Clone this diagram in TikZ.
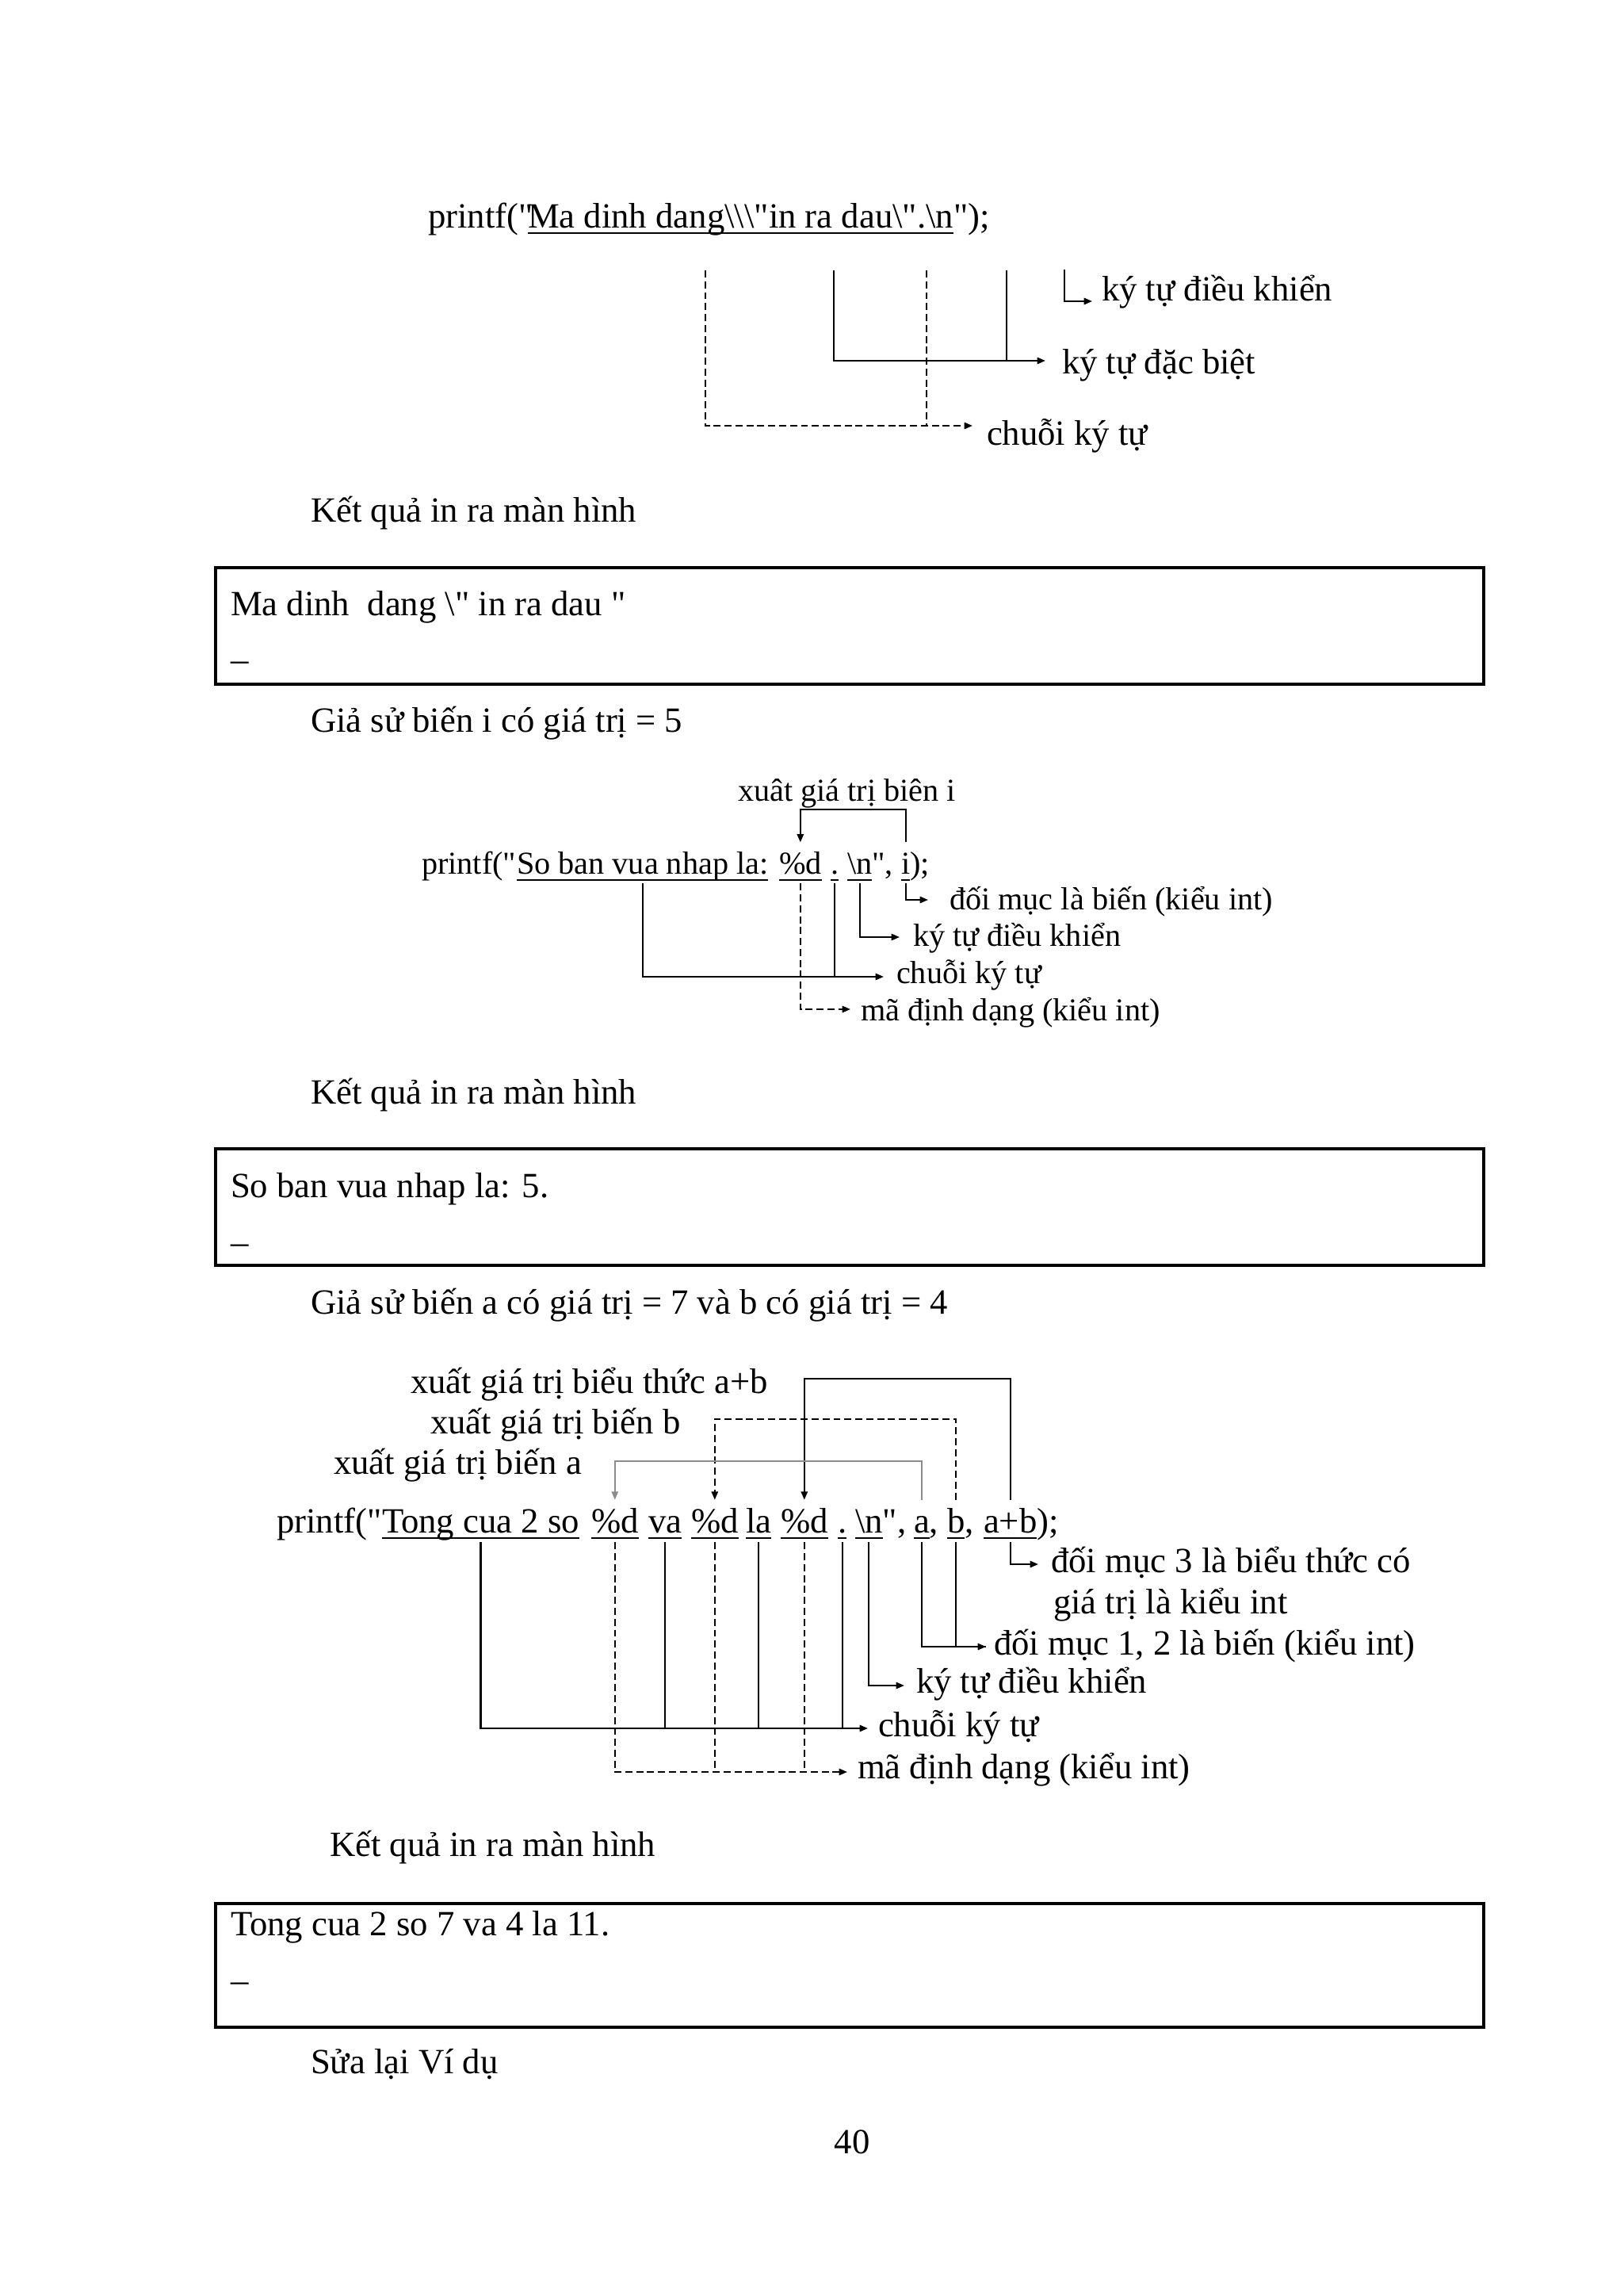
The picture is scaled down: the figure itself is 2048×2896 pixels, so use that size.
\documentclass[tikz,border=0pt]{standalone}
\usepackage{fontspec}
\setmainfont{Liberation Serif}[Ligatures=TeXOff]
\usetikzlibrary{arrows.meta}
\begin{document}
\begin{tikzpicture}[x=0.29067pt,y=-0.29067pt,
  txt/.style={anchor=base west,inner sep=0pt,outer sep=0pt,font=\fontsize{13pt}{15pt}\selectfont},
  stxt/.style={txt,font=\fontsize{11.7pt}{14pt}\selectfont},
  ln/.style={line width=0.6pt},
  dsh/.style={line width=0.6pt,dash pattern=on 2.6pt off 1.4pt},
  arr/.style={-{Triangle[length=3pt,width=2.4pt]}},
  boxline/.style={draw,line width=1pt},
  ul/.style={line width=0.6pt}
]
\useasboundingbox[fill=white] (0,0) rectangle (2048,2896);

% ---------- Diagram 1 ----------
\node[txt] (p1) at (540,287) {printf("};
\node[txt] (s1) at (666,287) {Ma dinh dang\textbackslash\textbackslash\textbackslash"in ra dau\textbackslash".\textbackslash n};
\node[txt] (q1) at (s1.base east) {");};
\draw[ul] ([yshift=-2.1pt]s1.base west) -- ([yshift=-2.1pt]s1.base east);

\node[txt] (l1ctl) at (1390,379) {ký tự điều khiển};
\node[txt] (l1sp) at (1340,471) {ký tự đặc biệt};
\node[txt] (l1str) at (1245,561) {chuỗi ký tự};

\coordinate (c1a) at (890,341);
\coordinate (c1b) at (1052,341);
\coordinate (c1c) at (1169,341);
\coordinate (c1d) at (1270,341);
\coordinate (c1e) at (1343,340);
\coordinate (e1str) at (1227,537);
\coordinate (e1sp) at (1319,455);
\coordinate (e1ctl) at (1378,380);
\draw[dsh,arr] (c1a) |- (e1str);
\draw[dsh] (c1c) -- (c1c |- e1str);
\draw[ln,arr] (c1b) |- (e1sp);
\draw[ln] (c1d) -- (c1d |- e1sp);
\draw[ln,arr] (c1e) |- (e1ctl);

\node[txt] (k1) at (392,658) {Kết quả in ra màn hình};

% ---------- Box 1 ----------
\draw[boxline] (272,716) rectangle (1872,863);
\node[txt] (b1t) at (291,776) {Ma dinh\ \ dang \textbackslash" in ra dau "};
\node[txt] (b1u) at (291,831) {\_};

\node[txt] (g1) at (392,923) {Giả sử biến i có giá trị = 5};

% ---------- Diagram 2 ----------
\node[stxt] (p2) at (532,1102) {printf("};
\node[stxt] (S2) at (652,1102) {So ban vua nhap la:};
\node[stxt] (d2) at (983,1102) {\%d};
\node[stxt] (dot2) at (1048,1102) {.};
\node[stxt] (nl2) at (1069,1102) {\textbackslash n};
\node[stxt] (q2) at (nl2.base east) {",};
\node[stxt] (i2) at (1137,1102) {i};
\node[stxt] (e2) at (i2.base east) {);};
\foreach \t in {S2,d2,dot2,nl2,i2}
  \draw[ul] ([yshift=-2.3pt]\t.base west) -- ([yshift=-2.3pt]\t.base east);

\node[stxt] (x2) at (931,1010) {xuât giá trị biên i};
\node[stxt] (l2i) at (1198,1147) {đối mục là biến (kiểu int)};
\node[stxt] (l2ctl) at (1152,1193) {ký tự điều khiển};
\node[stxt] (l2str) at (1131,1240) {chuỗi ký tự};
\node[stxt] (l2fmt) at (1086,1287) {mã định dạng (kiểu int)};

\draw[ln,arr] ([yshift=11.5pt]i2.base) -- ++(0,-41) -| ([yshift=11.5pt]d2.base);

\coordinate (e2i) at (1171,1135);
\coordinate (e2nl) at (1135,1182);
\coordinate (e2str) at (1115,1232);
\coordinate (e2fmt) at (1073,1273);
\draw[ln,arr] ([yshift=-3.6pt]i2.base) |- (e2i);
\draw[ln,arr] ([yshift=-3.6pt]nl2.base) |- (e2nl);
\draw[ln,arr] ([yshift=-3.6pt]S2.base) |- (e2str);
\draw[ln] ([yshift=-3.6pt]dot2.base) -- (dot2.base |- e2str);
\draw[dsh,arr] ([yshift=-3.6pt]d2.base) |- (e2fmt);

\node[txt] (k2) at (392,1392) {Kết quả in ra màn hình};

% ---------- Box 2 ----------
\draw[boxline] (272,1449) rectangle (1872,1596);
\node[txt] (b2t) at (291,1510) {So ban vua nhap la: 5.};
\node[txt] (b2u) at (291,1566) {\_};

\node[txt] (g2) at (392,1657) {Giả sử biến a có giá trị = 7 và b có giá trị = 4};

% ---------- Diagram 3 ----------
\node[txt] (p3) at (349,1933) {printf("};
\node[txt] (T3) at (482,1933) {Tong cua 2 so};
\node[txt] (d31) at (746,1933) {\%d};
\node[txt] (va3) at (818,1933) {va};
\node[txt] (d32) at (872,1933) {\%d};
\node[txt] (la3) at (941,1933) {la};
\node[txt] (d33) at (985,1933) {\%d};
\node[txt] (dot3) at (1057,1933) {.};
\node[txt] (nl3) at (1079,1933) {\textbackslash n};
\node[txt] (q3) at (nl3.base east) {",};
\node[txt] (a3) at (1153,1933) {a};
\node[txt] (c31) at (a3.base east) {,};
\node[txt] (b3) at (1195,1933) {b};
\node[txt] (c32) at (b3.base east) {,};
\node[txt] (apb3) at (1241,1933) {a+b};
\node[txt] (e3) at (apb3.base east) {);};
\foreach \t in {T3,d31,va3,d32,la3,d33,dot3,nl3,a3,b3,apb3}
  \draw[ul] ([yshift=-2.1pt]\t.base west) -- ([yshift=-2.1pt]\t.base east);

\node[txt] (x3ab) at (518,1757) {xuất giá trị biểu thức a+b};
\node[txt] (x3b) at (543,1808) {xuất giá trị biến b};
\node[txt] (x3a) at (421,1859) {xuất giá trị biến a};

\draw[ln,arr] ([yshift=12pt]apb3.base) -- ++(0,-153) -| ([yshift=12pt]d33.base);
\draw[dsh,arr] ([yshift=12pt]b3.base) -- ++(0,-102) -| ([yshift=12pt]d32.base);
\draw[ln,draw=black!45,arr] ([yshift=12pt]a3.base) -- ++(0,-49) -| ([yshift=12pt]d31.base);

\node[txt] (l3a) at (1326,1983) {đối mục 3 là biểu thức có};
\node[txt] (l3b) at (1329,2035) {giá trị là kiểu int};
\node[txt] (l3c) at (1254,2087) {đối mục 1, 2 là biến (kiểu int)};
\node[txt] (l3d) at (1156,2135) {ký tự điều khiển};
\node[txt] (l3e) at (1108,2190) {chuỗi ký tự};
\node[txt] (l3f) at (1082,2243) {mã định dạng (kiểu int)};

\coordinate (e3apb) at (1310,1973);
\coordinate (e3ab) at (1244,2077);
\coordinate (e3nl) at (1141,2126);
\coordinate (e3str) at (1095,2180);
\coordinate (e3fmt) at (1069,2235);
\draw[ln,arr] ([yshift=-3.6pt]apb3.base) |- (e3apb);
\draw[ln] ([yshift=-3.6pt]b3.base) |- (e3ab);
\draw[ln,arr] ([yshift=-3.6pt]a3.base) |- (e3ab);
\draw[ln,arr] ([yshift=-3.6pt]nl3.base) |- (e3nl);
\draw[ln,arr] ([yshift=-3.6pt]T3.base) |- (e3str);
\foreach \t in {va3,la3,dot3}
  \draw[ln] ([yshift=-3.6pt]\t.base) -- (\t.base |- e3str);
\draw[dsh,arr] ([yshift=-3.6pt]d31.base) |- (e3fmt);
\foreach \t in {d32,d33}
  \draw[dsh] ([yshift=-3.6pt]\t.base) -- (\t.base |- e3fmt);

\node[txt] (k3) at (416,2341) {Kết quả in ra màn hình};

% ---------- Box 3 ----------
\draw[boxline] (272,2401) rectangle (1872,2557);
\node[txt] (b3t) at (291,2441) {Tong cua 2 so 7 va 4 la 11.};
\node[txt] (b3u) at (291,2497) {\_};

\node[txt] (fix) at (392,2615) {Sửa lại Ví dụ};
\node[txt,anchor=base] (pg) at (1075,2716) {40};
\end{tikzpicture}
\end{document}
